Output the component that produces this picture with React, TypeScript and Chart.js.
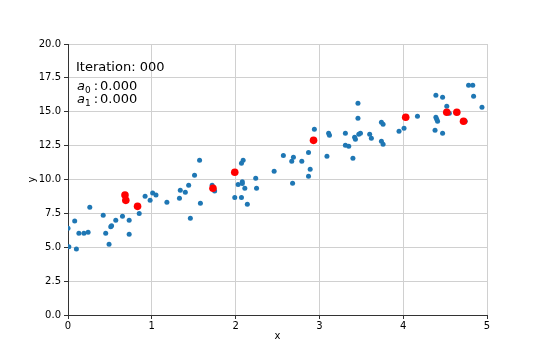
import React, { useEffect, useRef } from "react";
import { Chart, registerables } from "chart.js";

Chart.register(...registerables);

const blueX = [0.0, 0.01, 0.08, 0.1, 0.13, 0.19, 0.24, 0.26, 0.42, 0.45, 0.49, 0.51, 0.52, 0.57, 0.65, 0.73, 0.73, 0.85, 0.92, 0.98, 1.01, 1.05, 1.18,
  1.57, 1.51, 1.44, 1.34, 1.4, 1.33, 1.58, 1.46, 1.72, 1.75, 2.07, 2.09, 2.03, 2.08, 2.08, 2.11, 1.99, 2.07, 2.14, 2.24, 2.25, 2.46,
  2.57, 2.67, 2.69, 2.79, 2.87, 2.89, 2.87, 2.68, 2.94, 3.11, 3.12, 3.09, 3.31, 3.42, 3.43, 3.46, 3.46, 3.47, 3.49, 3.31, 3.35, 3.4,
  3.6, 3.62, 3.74, 3.76, 3.74, 3.76, 3.95, 4.01, 4.17, 4.39, 4.47, 4.52, 4.39, 4.4, 4.41, 4.55, 4.74, 4.38, 4.47, 4.78, 4.83, 4.84, 4.94];
const blueY = [6.4, 5.04, 6.94, 4.87, 6.03, 6.03, 6.1, 7.95, 7.36, 6.03, 5.22, 6.52, 6.59, 6.99, 7.28, 6.99, 5.96, 7.5, 8.76, 8.46, 9.0, 8.86, 8.32,
  11.42, 10.31, 9.57, 9.2, 9.06, 8.61, 8.24, 7.14, 9.57, 9.15, 11.2, 11.42, 9.64, 9.84, 9.7, 9.35, 8.68, 8.68, 8.17, 10.09, 9.35, 10.6,
  11.78, 11.34, 11.64, 11.34, 12.0, 10.75, 10.24, 9.72, 13.7, 13.41, 13.26, 11.71, 13.41, 13.11, 12.97, 15.62, 14.52, 13.34, 13.41, 12.52, 12.45, 11.56,
  13.34, 13.04, 14.22, 14.07, 12.82, 12.6, 13.56, 13.78, 14.66, 16.21, 16.07, 15.4, 14.59, 14.44, 14.3, 14.89, 14.3, 13.63, 13.41, 16.95, 16.95, 16.14, 15.33];

const redX = [0.68, 0.69, 0.83, 1.73, 1.99, 2.93, 4.03, 4.52, 4.64, 4.72];
const redY = [8.86, 8.46, 8.02, 9.35, 10.53, 12.89, 14.59, 14.96, 14.96, 14.3];

const xTicks = [0, 1, 2, 3, 4, 5];
const yTicks = [0, 2.5, 5, 7.5, 10, 12.5, 15, 17.5, 20];

const iterationText = "Iteration: 000";
const a0Text = "0.000";
const a1Text = "0.000";

const FONT = "DejaVu Sans";

const textPlugin = {
  id: "iterText",
  afterDraw(chart: any) {
    const ctx = chart.ctx;
    ctx.save();
    ctx.fillStyle = "#000";
    ctx.textBaseline = "alphabetic";
    ctx.textAlign = "left";
    ctx.font = `13px ${FONT}`;
    ctx.fillText(iterationText, 76, 71);
    const drawCoef = (idx: string, val: string, base: number) => {
      let x = 77;
      ctx.font = `italic 13px ${FONT}`;
      ctx.fillText("a", x, base);
      x += ctx.measureText("a").width;
      ctx.font = `9px ${FONT}`;
      ctx.fillText(idx, x, base + 3);
      x += ctx.measureText(idx).width + 3;
      ctx.font = `13px ${FONT}`;
      ctx.fillText(":", x, base);
      x += ctx.measureText(":").width + 2;
      ctx.fillText(val, x, base);
    };
    drawCoef("0", a0Text, 90);
    drawCoef("1", a1Text, 103);
    ctx.restore();
  },
};

export default function App() {
  const ref = useRef<HTMLCanvasElement>(null);
  useEffect(() => {
    const chart = new Chart(ref.current!, {
      type: "scatter",
      data: {
        datasets: [
          {
            data: redX.map((x, i) => ({ x, y: redY[i] })),
            backgroundColor: "#ff0000",
            borderColor: "#ff0000",
            pointRadius: 3.8,
            borderWidth: 0,
            order: 0,
          },
          {
            data: blueX.map((x, i) => ({ x, y: blueY[i] })),
            backgroundColor: "#1f77b4",
            borderColor: "#1f77b4",
            pointRadius: 2.5,
            borderWidth: 0,
            order: 1,
          },
        ],
      },
      options: {
        animation: false,
        responsive: false,
        layout: { padding: { top: 44, right: 53, left: 26, bottom: 18 } },
        plugins: { legend: { display: false }, tooltip: { enabled: false } },
        scales: {
          x: {
            type: "linear",
            min: 0,
            max: 5,
            afterFit: (s: any) => { s.height = 27; },
            afterBuildTicks: (s: any) => { s.ticks = xTicks.map((v) => ({ value: v })); },
            ticks: { color: "#000", font: { family: FONT, size: 10 }, padding: 1, callback: (v: any) => String(v) },
            grid: { color: "#d0d0d0", tickColor: "#333", tickLength: 4 },
            border: { color: "#333", width: 1 },
            title: { display: true, text: "x", color: "#000", font: { family: FONT, size: 10 }, padding: { top: 2, bottom: 0 } },
          },
          y: {
            type: "linear",
            min: 0,
            max: 20,
            afterFit: (s: any) => { s.width = 42; },
            afterBuildTicks: (s: any) => { s.ticks = yTicks.map((v) => ({ value: v })); },
            ticks: { color: "#000", font: { family: FONT, size: 10 }, padding: 3, callback: (v: any) => Number(v).toFixed(1) },
            grid: { color: "#d0d0d0", tickColor: "#333", tickLength: 4 },
            border: { color: "#333", width: 1 },
            title: { display: true, text: "y", color: "#000", font: { family: FONT, size: 10 }, padding: 0 },
          },
        },
      },
      plugins: [textPlugin],
    });
    return () => chart.destroy();
  }, []);
  return (
    <div style={{ position: "fixed", left: 0, top: 0, width: 540, height: 360, background: "#fff" }}>
      <canvas ref={ref} width={540} height={360} style={{ width: 540, height: 360 }} />
    </div>
  );
}
